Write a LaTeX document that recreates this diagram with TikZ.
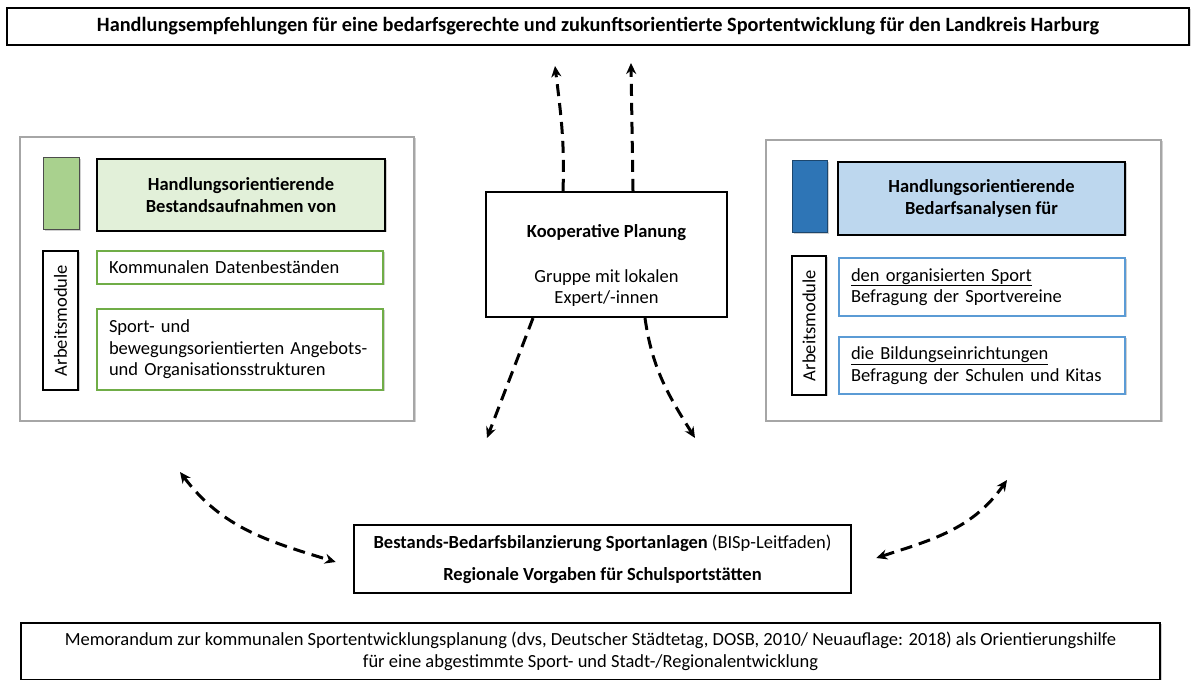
\documentclass[tikz,border=0pt]{standalone}
\usepackage{fontspec}
\setmainfont{Carlito}
\usetikzlibrary{arrows.meta,shadows}
\definecolor{gruenQ}{HTML}{A9D18E}
\definecolor{gruenHell}{HTML}{E2F0D9}
\definecolor{gruenRand}{HTML}{70AD47}
\definecolor{blauQ}{HTML}{2E75B6}
\definecolor{blauHell}{HTML}{BDD7EE}
\definecolor{blauRand}{HTML}{5B9BD5}
\definecolor{rahmengrau}{HTML}{A6A6A6}
\begin{document}
\begin{tikzpicture}[x=1pt,y=1pt,
	every node/.style={align=center,inner sep=0pt,font=\fontsize{18.5}{21.5}\selectfont},
	schatten/.style={drop shadow={shadow xshift=1.5pt,shadow yshift=-1.5pt,opacity=.3,fill=black!60}},
	titelbox/.style={draw,fill=white,line width=2.5pt,schatten},
	rahmen/.style={draw=rahmengrau,fill=white,line width=2pt,schatten},
	quadrat/.style={draw=black!70,line width=1pt,schatten},
	kopf/.style={draw,line width=2.5pt,minimum width=288,minimum height=72,schatten},
	modul/.style={draw,fill=white,line width=1.2pt,text width=262,inner xsep=12pt,minimum height=#1,align=left,schatten},
	am/.style={draw,fill=white,line width=1.2pt,rotate=90,minimum width=139,minimum height=35,schatten},
	hauptbox/.style={draw,fill=white,line width=2.2pt},
	pfeil/.style={-{Stealth[length=11pt,width=10pt]},line width=3pt,dash pattern=on 12pt off 7pt},
	doppelpfeil/.style={pfeil,{Stealth[length=11pt,width=10pt]}-{Stealth[length=11pt,width=10pt]}}]
	\useasboundingbox (0,0) rectangle (1192,680);
	\node (titel) [titelbox,minimum width=1182,minimum height=37,font=\fontsize{20.3}{24}\selectfont\bfseries] at (598,653.5) {Handlungsempfehlungen für eine bedarfsgerechte und zukunftsorientierte Sportentwicklung für den Landkreis Harburg};
	\node (bestand) [rahmen,minimum width=394,minimum height=284] at (217,401) {};
	\node (bedarf) [rahmen,minimum width=395,minimum height=281] at (963.5,399.5) {};
	\node (gruen) [quadrat,fill=gruenQ,minimum width=36,minimum height=72] at (61,486) {};
	\node (bestandKopf) [kopf,fill=gruenHell] at (241,485) {\textbf{Handlungsorientierende}\\\textbf{Bestandsaufnahmen von}};
	\node (amLinks) [am] at (60.5,359.5) {Arbeitsmodule};
	\node (kommunal) [modul=33,draw=gruenRand] at (240,412.5) {Kommunalen Datenbeständen};
	\node (sport) [modul=81,draw=gruenRand] at (240,330.5) {Sport- und\\bewegungsorientierten Angebots-\\und Organisationsstrukturen};
	\node (blau) [quadrat,fill=blauQ,draw=blauQ!60!black,minimum width=35,minimum height=72] at (809.5,483) {};
	\node (bedarfKopf) [kopf,fill=blauHell,minimum width=287,minimum height=73] at (981.5,481.5) {\textbf{Handlungsorientierende}\\\textbf{Bedarfsanalysen für}};
	\node (amRechts) [am,minimum height=34] at (809,354.5) {Arbeitsmodule};
	\node (verein) [modul=58,draw=blauRand] at (982,393) {\underline{den organisierten Sport}\\Befragung der Sportvereine};
	\node (schule) [modul=57,draw=blauRand] at (982,314.5) {\underline{die Bildungseinrichtungen}\\Befragung der Schulen und Kitas};
	\node (koop) [hauptbox,minimum width=241,minimum height=125] at (606.5,425.5) {};
	\node (koopText) at (606.5,414.5) {\textbf{Kooperative Planung}\\[23.5pt]Gruppe mit lokalen\\Expert/-innen};
	\node (bilanz) [hauptbox,line width=2.5pt,minimum width=497,minimum height=68] at (602.5,121) {\textbf{Bestands-Bedarfsbilanzierung Sportanlagen} (BISp-Leitfaden)\\[10.5pt]\textbf{Regionale Vorgaben für Schulsportstätten}};
	\node (memo) [draw,fill=white,line width=1.3pt,schatten,minimum width=1139,minimum height=57] at (590.5,28.5) {Memorandum zur kommunalen Sportentwicklungsplanung (dvs, Deutscher Städtetag, DOSB, 2010/ Neuauflage: 2018) als Orientierungshilfe\\für eine abgestimmte Sport- und Stadt-/Regionalentwicklung};
	\coordinate (z1) at (555,614);
	\coordinate (z2) at (631,617);
	\coordinate (z3) at (487,242);
	\coordinate (z4) at (695,242);
	\coordinate (z5) at (180,208);
	\coordinate (z6) at (1007,200);
	\draw[pfeil] ([xshift=-43.5pt]koop.north) to[out=88,in=-83] (z1);
	\draw[pfeil] ([xshift=26.5pt]koop.north) -- (z2);
	\draw[pfeil] ([xshift=-73.5pt]koop.south) -- (z3);
	\draw[pfeil] ([xshift=38.5pt]koop.south) to[out=-82,in=122] (z4);
	\draw[doppelpfeil] (z5) to[out=-53,in=163] ([xshift=-17pt,yshift=-3pt]bilanz.west);
	\draw[doppelpfeil] ([xshift=24pt,yshift=1pt]bilanz.east) to[out=18,in=235] (z6);
\end{tikzpicture}
\end{document}
